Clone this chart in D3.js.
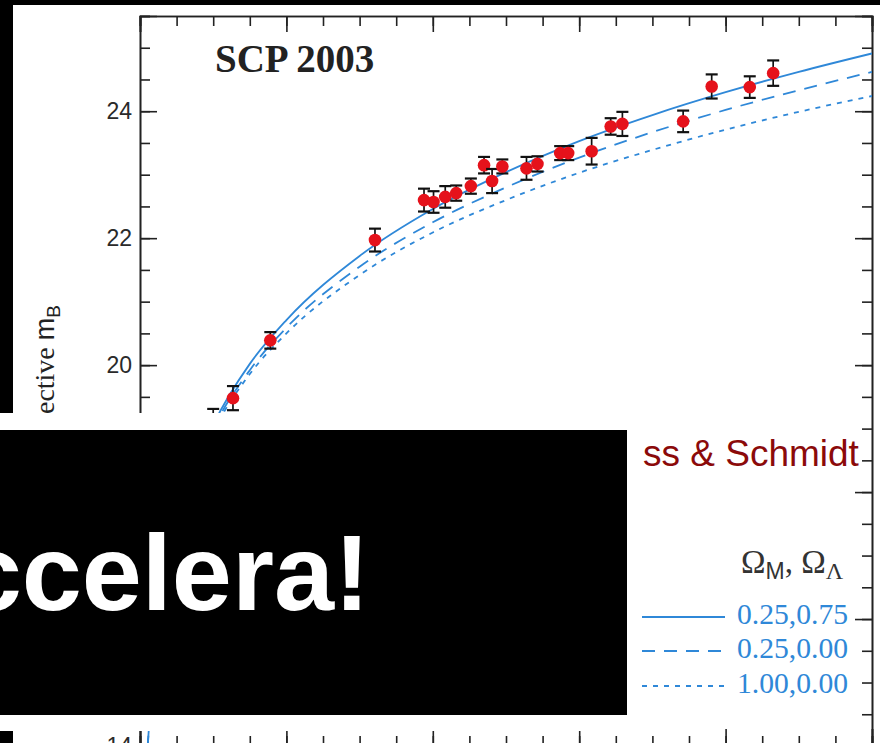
<!DOCTYPE html>
<html><head><meta charset="utf-8">
<script src="https://cdn.jsdelivr.net/npm/d3@7"></script>
<style>html,body{margin:0;padding:0;background:#fff;overflow:hidden}</style>
</head><body><svg id="chart" width="880" height="743"></svg>
<script>
// ---- data ----
const modelZ      = [0.01, 0.02, 0.03, 0.05, 0.07, 0.10, 0.15, 0.20, 0.30, 0.40, 0.50, 0.60, 0.70, 0.80, 0.90, 1.00];
const modelLambda = [13.92, 15.44, 16.34, 17.48, 18.25, 19.06, 20.02, 20.71, 21.72, 22.46, 23.04, 23.53, 23.94, 24.30, 24.62, 24.91];
const modelOpen   = [13.91, 15.42, 16.31, 17.44, 18.19, 19.00, 19.92, 20.59, 21.55, 22.25, 22.80, 23.27, 23.67, 24.02, 24.33, 24.62];
const modelFlat1  = [13.91, 15.42, 16.30, 17.42, 18.16, 18.95, 19.86, 20.50, 21.42, 22.09, 22.60, 23.03, 23.39, 23.71, 23.99, 24.24];

const snZ   = [0.100, 0.127, 0.178, 0.321, 0.388, 0.401, 0.417, 0.432, 0.452, 0.470, 0.481, 0.495, 0.528, 0.543, 0.574, 0.585, 0.617, 0.643, 0.659, 0.742, 0.781, 0.833, 0.865];
const snMag = [19.12, 19.48, 20.39, 21.97, 22.60, 22.57, 22.65, 22.71, 22.82, 23.15, 22.90, 23.13, 23.10, 23.17, 23.34, 23.34, 23.37, 23.76, 23.80, 23.84, 24.39, 24.38, 24.60];
const snErr = [0.19, 0.19, 0.13, 0.18, 0.18, 0.17, 0.17, 0.12, 0.12, 0.13, 0.19, 0.11, 0.18, 0.12, 0.11, 0.11, 0.21, 0.13, 0.19, 0.17, 0.19, 0.17, 0.20];

const yMajorTicks = [14, 16, 18, 20, 22, 24];
const yTickLabels = [14, 20, 22, 24];          // the labels 16 and 18 lie under the black banner
const xMajorTicks = [0, 0.2, 0.4, 0.6, 0.8, 1.0];
const legendLabels = ["0.25,0.75", "0.25,0.00", "1.00,0.00"];
const titleText = "SCP 2003";
const yLabelText = "effective ";
const bannerText = "ccelera!";
const creditText = "ss & Schmidt";

// ---- layout ----
const svg = d3.select("#chart");
const L = 140, R = 872, T = 16, B = 746;
const x = d3.scaleLinear().domain([0, 1]).range([L, R]);
const y = d3.scaleLinear().domain([14, 25.5]).range([B, T]);
const ink = "#222";
const blue = "#2f88d8";

svg.append("rect").attr("width", 880).attr("height", 743).attr("fill", "#fff");

svg.append("defs").append("clipPath").attr("id", "plotclip")
  .append("rect").attr("x", L).attr("y", T).attr("width", R - L).attr("height", B - T);

// axes
function styleAxis(g) {
  g.select(".domain").attr("stroke", ink).attr("stroke-width", 1.6);
  g.selectAll(".tick line").attr("stroke", ink).attr("stroke-width", 1.6);
  g.selectAll(".tick text").attr("fill", "#2a2a2a").attr("font-family", "Liberation Sans, Arial, sans-serif").attr("font-size", 23);
}
const yMinor = d3.range(14, 25.51, 0.5);
const xMinor = d3.range(0, 1.001, 0.05);

svg.append("g").attr("transform", `translate(${L},0)`)
  .call(d3.axisLeft(y).tickValues(yMinor).tickSize(-10).tickFormat("")).call(styleAxis);
svg.append("g").attr("transform", `translate(${L},0)`)
  .call(d3.axisLeft(y).tickValues(yMajorTicks).tickSize(-17).tickFormat("")).call(styleAxis);
svg.append("g").attr("transform", `translate(${L},0)`)
  .call(d3.axisLeft(y).tickValues(yTickLabels).tickSize(0).tickPadding(8).tickFormat(d3.format("d"))).call(styleAxis)
  .call(g => g.select(".domain").remove());
svg.append("g").attr("transform", `translate(${R},0)`)
  .call(d3.axisRight(y).tickValues(yMinor).tickSize(-10).tickFormat("")).call(styleAxis);
svg.append("g").attr("transform", `translate(${R},0)`)
  .call(d3.axisRight(y).tickValues(yMajorTicks).tickSize(-17).tickFormat("")).call(styleAxis);
svg.append("g").attr("transform", `translate(0,${T})`)
  .call(d3.axisTop(x).tickValues(xMinor).tickSize(-10).tickFormat("")).call(styleAxis);
svg.append("g").attr("transform", `translate(0,${T})`)
  .call(d3.axisTop(x).tickValues(xMajorTicks).tickSize(-16).tickFormat("")).call(styleAxis);
svg.append("g").attr("transform", `translate(0,${B})`)
  .call(d3.axisBottom(x).tickValues(xMinor).tickSize(-10).tickFormat("")).call(styleAxis);
svg.append("g").attr("transform", `translate(0,${B})`)
  .call(d3.axisBottom(x).tickValues(xMajorTicks).tickSize(-17).tickFormat("")).call(styleAxis);

// title
svg.append("text").attr("x", 215).attr("y", 72).text(titleText)
  .attr("font-family", "Liberation Serif, Times New Roman, serif").attr("font-weight", "bold")
  .attr("font-size", 39).attr("fill", ink);

// y label
const yl = svg.append("text").attr("transform", "translate(54,305) rotate(-90)")
  .attr("text-anchor", "end").attr("fill", ink);
yl.append("tspan").text(yLabelText).attr("font-family", "Liberation Serif, serif").attr("font-size", 28);
yl.append("tspan").text("m").attr("font-family", "Liberation Sans, sans-serif").attr("font-size", 27);
yl.append("tspan").text("B").attr("font-family", "Liberation Sans, sans-serif").attr("font-size", 19).attr("dy", 6);

// model curves
const plot = svg.append("g").attr("clip-path", "url(#plotclip)");
const line = d3.line().x(d => x(d[0])).y(d => y(d[1])).curve(d3.curveMonotoneX);
const curves = [
  {vals: modelLambda, dash: null, w: 1.8},
  {vals: modelOpen, dash: "13,9", w: 1.8},
  {vals: modelFlat1, dash: "5,6", w: 1.8}
];
curves.forEach(c => {
  plot.append("path").datum(modelZ.map((z, i) => [z, c.vals[i]]))
    .attr("d", line).attr("fill", "none").attr("stroke", blue)
    .attr("stroke-width", c.w).attr("stroke-dasharray", c.dash);
});

// supernovae
const sn = snZ.map((z, i) => ({z, m: snMag[i], e: snErr[i]}));
const g = plot.selectAll("g.sn").data(sn).enter().append("g");
g.append("line").attr("x1", d => x(d.z)).attr("x2", d => x(d.z))
  .attr("y1", d => y(d.m + d.e)).attr("y2", d => y(d.m - d.e))
  .attr("stroke", "#111").attr("stroke-width", 1.7);
[1, -1].forEach(s => {
  g.append("line").attr("x1", d => x(d.z) - 6).attr("x2", d => x(d.z) + 6)
    .attr("y1", d => y(d.m + s * d.e)).attr("y2", d => y(d.m + s * d.e))
    .attr("stroke", "#111").attr("stroke-width", 2.2);
});
g.append("circle").attr("cx", d => x(d.z)).attr("cy", d => y(d.m)).attr("r", 6.3).attr("fill", "#e5121b");

// legend
const lh = svg.append("text").attr("x", 741).attr("y", 573).attr("fill", "#333")
  .attr("font-family", "Liberation Serif, serif").attr("font-size", 33);
lh.append("tspan").text("Ω");
lh.append("tspan").text("M").attr("font-family", "Liberation Sans, sans-serif").attr("font-size", 23).attr("dy", 6);
lh.append("tspan").text(",  ").attr("dy", -6);
lh.append("tspan").text("Ω");
lh.append("tspan").text("Λ").attr("font-size", 24).attr("dy", 6);
const legY = [617, 651, 686];
curves.forEach((c, i) => {
  svg.append("line").attr("x1", 642).attr("x2", 725).attr("y1", legY[i]).attr("y2", legY[i])
    .attr("stroke", blue).attr("stroke-width", c.w).attr("stroke-dasharray", c.dash);
  svg.append("text").attr("x", 737).attr("y", legY[i] + 7).text(legendLabels[i])
    .attr("fill", blue).attr("font-family", "Liberation Serif, serif").attr("font-size", 30)
    .attr("textLength", 111).attr("lengthAdjust", "spacingAndGlyphs");
});

// slide overlays
svg.append("rect").attr("x", 0).attr("y", 0).attr("width", 880).attr("height", 5).attr("fill", "#000");
svg.append("rect").attr("x", 0).attr("y", 0).attr("width", 13).attr("height", 413).attr("fill", "#000");
svg.append("rect").attr("x", 0).attr("y", 731).attr("width", 13).attr("height", 12).attr("fill", "#000");
svg.append("rect").attr("x", 0).attr("y", 413).attr("width", 627).attr("height", 318).attr("fill", "#fff");
svg.append("rect").attr("x", 0).attr("y", 430).attr("width", 627).attr("height", 285).attr("fill", "#000");
svg.append("text").attr("x", 370).attr("y", 610).attr("text-anchor", "end").text(bannerText)
  .attr("fill", "#fff").attr("font-family", "Liberation Sans, Arial, sans-serif")
  .attr("font-weight", "bold").attr("font-size", 108);
svg.append("text").attr("x", 643).attr("y", 466).text(creditText)
  .attr("fill", "#8b0a0a").attr("font-family", "Liberation Sans, Arial, sans-serif").attr("font-size", 37);
</script></body></html>
